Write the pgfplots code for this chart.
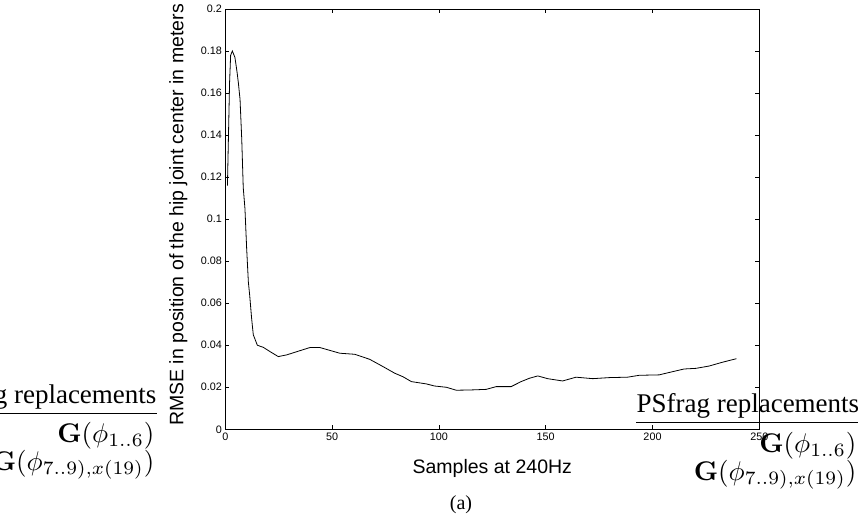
\documentclass[border=0pt]{standalone}
\usepackage[no-math]{fontspec}
\setmainfont{Liberation Sans}
\newfontfamily\timesfont{Liberation Serif}
\usepackage{pgfplots}
\pgfplotsset{compat=1.18}
\begin{document}
\begin{tikzpicture}[x=1pt,y=1pt]
\useasboundingbox (0,0) rectangle (859,523);
\clip (0,0) rectangle (859,523);
\begin{axis}[
  at={(225.3pt,93.7pt)}, anchor=south west,
  scale only axis, width=534pt, height=420.3pt,
  xmin=0, xmax=250, ymin=0, ymax=0.2,
  xtick={0,50,100,150,200,250},
  ytick={0,0.02,0.04,0.06,0.08,0.1,0.12,0.14,0.16,0.18,0.2},
  tick align=inside, major tick length=4pt,
  tick style={black, line width=0.6pt},
  axis line style={black, line width=1pt},
  ticklabel style={font=\fontsize{10.8}{12}\selectfont},
  /pgf/number format/assume math mode=true,
  yticklabel style={/pgf/number format/fixed, /pgf/number format/precision=2},
  scaled y ticks=false,
  xlabel={Samples at 240Hz},
  ylabel={RMSE in position of the hip joint center in meters},
  label style={font=\fontsize{19.5}{22}\selectfont},
  xlabel style={at={(axis description cs:0.5,0)}, anchor=base, yshift=-44pt},
  ylabel style={at={(axis description cs:-0.0787,0.51)}, anchor=base},
]
\addplot[black, line width=0.8pt] coordinates {
(1,0.116) (2,0.165) (2.5,0.178) (3.3,0.180) (4.5,0.177) (5.5,0.170) (6.1,0.165)
(6.9,0.157) (7.7,0.138) (8.4,0.115) (9.2,0.105) (10,0.086) (10.8,0.070) (11.4,0.064)
(12.3,0.053) (13.1,0.045) (15,0.040) (17.8,0.039) (20.9,0.037) (24.8,0.0346)
(28.7,0.0354) (34.9,0.0374) (39.6,0.0389) (44.3,0.0389) (48.1,0.0378) (53.6,0.0362)
(60.6,0.0357) (67.6,0.0333) (73.9,0.0298) (79.3,0.0267) (83.2,0.0250) (87.1,0.0227)
(94.1,0.0216) (98,0.0206) (103.5,0.0200) (108.1,0.0186) (114.3,0.0187) (122.1,0.0190)
(126.8,0.0203) (133.8,0.0203) (138.5,0.0227) (142.4,0.0243) (146.3,0.0254)
(150.9,0.0241) (157.9,0.0230) (164.2,0.0248) (172,0.0241) (179.8,0.0246)
(188.3,0.0248) (193.8,0.0257) (203.1,0.0259) (209.3,0.0274) (214.8,0.0287)
(220.3,0.0290) (226.5,0.0301) (232.7,0.0319) (239.3,0.0336)
};
\end{axis}
% PSfrag leftovers, left
\node[anchor=base east, inner sep=0pt, scale=2.7] at (157,120) {\timesfont PSfrag replacements};
\draw[line width=0.8pt] (0,110) -- (157,110);
\node[anchor=base east, inner sep=0pt, scale=2.7] at (155,81) {$\mathbf{G}(\phi_{1..6})$};
\node[anchor=base east, inner sep=0pt, scale=2.7] at (155,53) {$\mathbf{G}(\phi_{7..9),x(19)})$};
% PSfrag leftovers, right
\node[anchor=base west, inner sep=0pt, scale=2.7] at (636,111) {\timesfont PSfrag replacements};
\draw[line width=0.8pt] (636,101) -- (858,101);
\node[anchor=base east, inner sep=0pt, scale=2.7] at (857,71) {$\mathbf{G}(\phi_{1..6})$};
\node[anchor=base east, inner sep=0pt, scale=2.7] at (857,43) {$\mathbf{G}(\phi_{7..9),x(19)})$};
% caption
\node[anchor=base, inner sep=0pt, scale=2] at (461,14) {\timesfont (a)};
\end{tikzpicture}
\end{document}
